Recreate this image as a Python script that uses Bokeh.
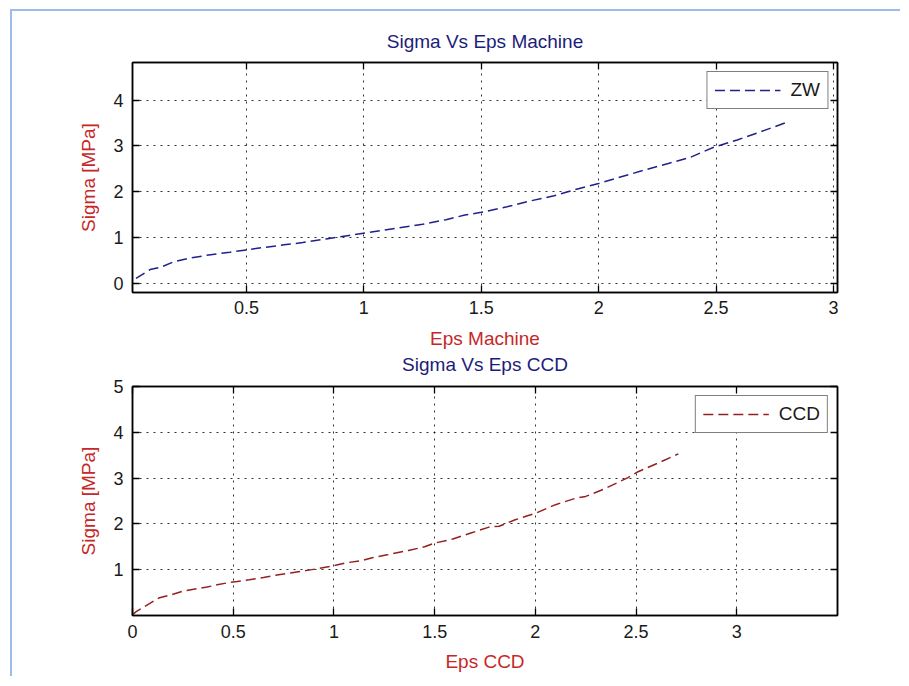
from bokeh.plotting import figure
from bokeh.layouts import column
from bokeh.models import Range1d, FixedTicker, LinearAxis, Title
from bokeh.embed import file_html
from bokeh.resources import INLINE

# ---------------- data ----------------
zw_eps = [0.03, 0.09, 0.14, 0.19, 0.26, 0.34, 0.43, 0.50, 0.57, 0.66, 0.74, 0.84,
          0.93, 1.02, 1.15, 1.25, 1.35, 1.43, 1.50, 1.61, 1.71, 1.81, 1.91, 2.00,
          2.10, 2.20, 2.30, 2.39, 2.49, 2.59, 2.68, 2.81]
zw_sigma = [0.11, 0.30, 0.36, 0.47, 0.55, 0.62, 0.68, 0.73, 0.78, 0.84, 0.89, 0.97,
            1.04, 1.11, 1.21, 1.29, 1.39, 1.49, 1.55, 1.67, 1.80, 1.91, 2.06, 2.18,
            2.33, 2.48, 2.62, 2.75, 2.97, 3.13, 3.29, 3.53]

ccd_eps = [0.00, 0.02, 0.08, 0.13, 0.19, 0.25, 0.31, 0.37, 0.42, 0.48, 0.52, 0.58,
           0.65, 0.71, 0.80, 0.86, 0.93, 1.00, 1.06, 1.14, 1.19, 1.27, 1.37, 1.45,
           1.50, 1.59, 1.68, 1.77, 1.82, 1.90, 2.00, 2.10, 2.20, 2.25, 2.34, 2.46,
           2.51, 2.61, 2.71]
ccd_sigma = [0.02, 0.09, 0.25, 0.38, 0.45, 0.53, 0.58, 0.62, 0.67, 0.72, 0.74, 0.78,
             0.83, 0.88, 0.94, 0.98, 1.03, 1.09, 1.15, 1.20, 1.26, 1.33, 1.42, 1.50,
             1.58, 1.67, 1.80, 1.93, 1.95, 2.09, 2.23, 2.42, 2.56, 2.60, 2.76, 3.01,
             3.14, 3.33, 3.53]

top_xticks = [0.5, 1, 1.5, 2, 2.5, 3]
top_xlabels = ["0.5", "1", "1.5", "2", "2.5", "3"]
top_yticks = [0, 1, 2, 3, 4]
top_ylabels = ["0", "1", "2", "3", "4"]
bot_xticks = [0, 0.5, 1, 1.5, 2, 2.5, 3]
bot_xlabels = ["0", "0.5", "1", "1.5", "2", "2.5", "3"]
bot_yticks = [1, 2, 3, 4, 5]
bot_ylabels = ["1", "2", "3", "4", "5"]

FONT = "Liberation Sans"
TITLE_COLOR = "#1c1c7a"
LABEL_COLOR = "#c62828"


def style_axis(ax, ticks, labels, show_labels=True):
    ax.ticker = FixedTicker(ticks=ticks)
    ax.major_tick_in = 7
    ax.major_tick_out = 0
    ax.minor_tick_line_color = None
    ax.major_tick_line_color = "black"
    ax.major_tick_line_width = 1.3
    ax.axis_line_color = "black"
    ax.axis_line_width = 1.5
    ax.major_label_text_font = FONT
    if show_labels:
        ax.major_label_overrides = dict(zip(ticks, labels))
        ax.major_label_text_font_size = "18px"
        ax.major_label_text_color = "#1a1a1a"
    else:
        # mirrored box ticks only: labels are not drawn
        ax.major_label_text_font_size = "1px"
        ax.major_label_text_color = None
        ax.major_label_standoff = 0


def style_title(t, standoff):
    t.align = "center"
    t.text_font = FONT
    t.text_font_size = "19px"
    t.text_font_style = "normal"
    t.text_color = TITLE_COLOR
    t.standoff = standoff


def make_fig(xlab, ylab, xr, yr, xt, xl, yt, yl, h, mb_top, mb_bot,
             tick_standoff, xlab_standoff):
    p = figure(width=888, height=h, x_range=Range1d(*xr), y_range=Range1d(*yr),
               output_backend="svg", toolbar_location=None, title=None,
               min_border_left=120, min_border_right=63,
               min_border_top=mb_top, min_border_bottom=mb_bot)
    p.background_fill_color = "white"
    p.border_fill_color = "white"
    p.outline_line_color = "black"
    p.outline_line_width = 1.5

    style_axis(p.xaxis[0], xt, xl)
    style_axis(p.yaxis[0], yt, yl)
    p.xaxis[0].major_label_standoff = tick_standoff
    p.yaxis[0].major_label_standoff = 9
    for ax, lab, so in ((p.xaxis[0], xlab, xlab_standoff), (p.yaxis[0], ylab, 11)):
        ax.axis_label = lab
        ax.axis_label_text_font = FONT
        ax.axis_label_text_font_size = "19px"
        ax.axis_label_text_font_style = "normal"
        ax.axis_label_text_color = LABEL_COLOR
        ax.axis_label_standoff = so

    top_ax = LinearAxis()
    style_axis(top_ax, xt, xl, show_labels=False)
    p.add_layout(top_ax, "above")
    right_ax = LinearAxis()
    style_axis(right_ax, yt, yl, show_labels=False)
    p.add_layout(right_ax, "right")

    p.xgrid.ticker = FixedTicker(ticks=xt)
    p.ygrid.ticker = FixedTicker(ticks=yt)
    for g in (p.xgrid[0], p.ygrid[0]):
        g.grid_line_color = "black"
        g.grid_line_dash = "2 5"
        g.grid_line_width = 1
        g.grid_line_alpha = 0.8
    return p


# upper panel (its figure also carries the lower panel's heading underneath)
p1 = make_fig("Eps Machine", "Sigma [MPa]",
              (0.015, 3.017), (-0.2, 4.82), top_xticks, top_xlabels,
              top_yticks, top_ylabels, 365, 51, 84, 8, 11)
t1 = Title(text="Sigma Vs Eps Machine")
style_title(t1, 21)
p1.add_layout(t1, "above")
t2 = Title(text="Sigma Vs Eps CCD")
style_title(t2, 0)
p1.add_layout(t2, "below")
p1.line(zw_eps, zw_sigma, line_color="#20208a", line_width=1.5,
        line_dash="10 5", legend_label="ZW")

# lower panel
p2 = make_fig("Eps CCD", "Sigma [MPa]",
              (0.0, 3.5), (0.0, 5.0), bot_xticks, bot_xlabels,
              bot_yticks, bot_ylabels, 300, 10, 61, 9, 10)
p2.line(ccd_eps, ccd_sigma, line_color="#942020", line_width=1.5,
        line_dash="10 5", legend_label="CCD")

for p in (p1, p2):
    lg = p.legend[0]
    lg.location = "top_right"
    lg.margin = 9
    lg.padding = 7
    lg.spacing = 0
    lg.glyph_width = 66
    lg.glyph_height = 20
    lg.label_standoff = 10
    lg.label_text_font = FONT
    lg.label_text_font_size = "19px"
    lg.label_text_color = "#1a1a1a"
    lg.border_line_color = "black"
    lg.border_line_width = 1.5
    lg.background_fill_color = "white"
    lg.background_fill_alpha = 1.0

layout = column(p1, p2, margin=(9, 0, 0, 10),
                styles={"border-top": "2px solid #9cbde9",
                        "border-left": "2px solid #9cbde9"})

open("out.html", "w").write(file_html(layout, INLINE))
